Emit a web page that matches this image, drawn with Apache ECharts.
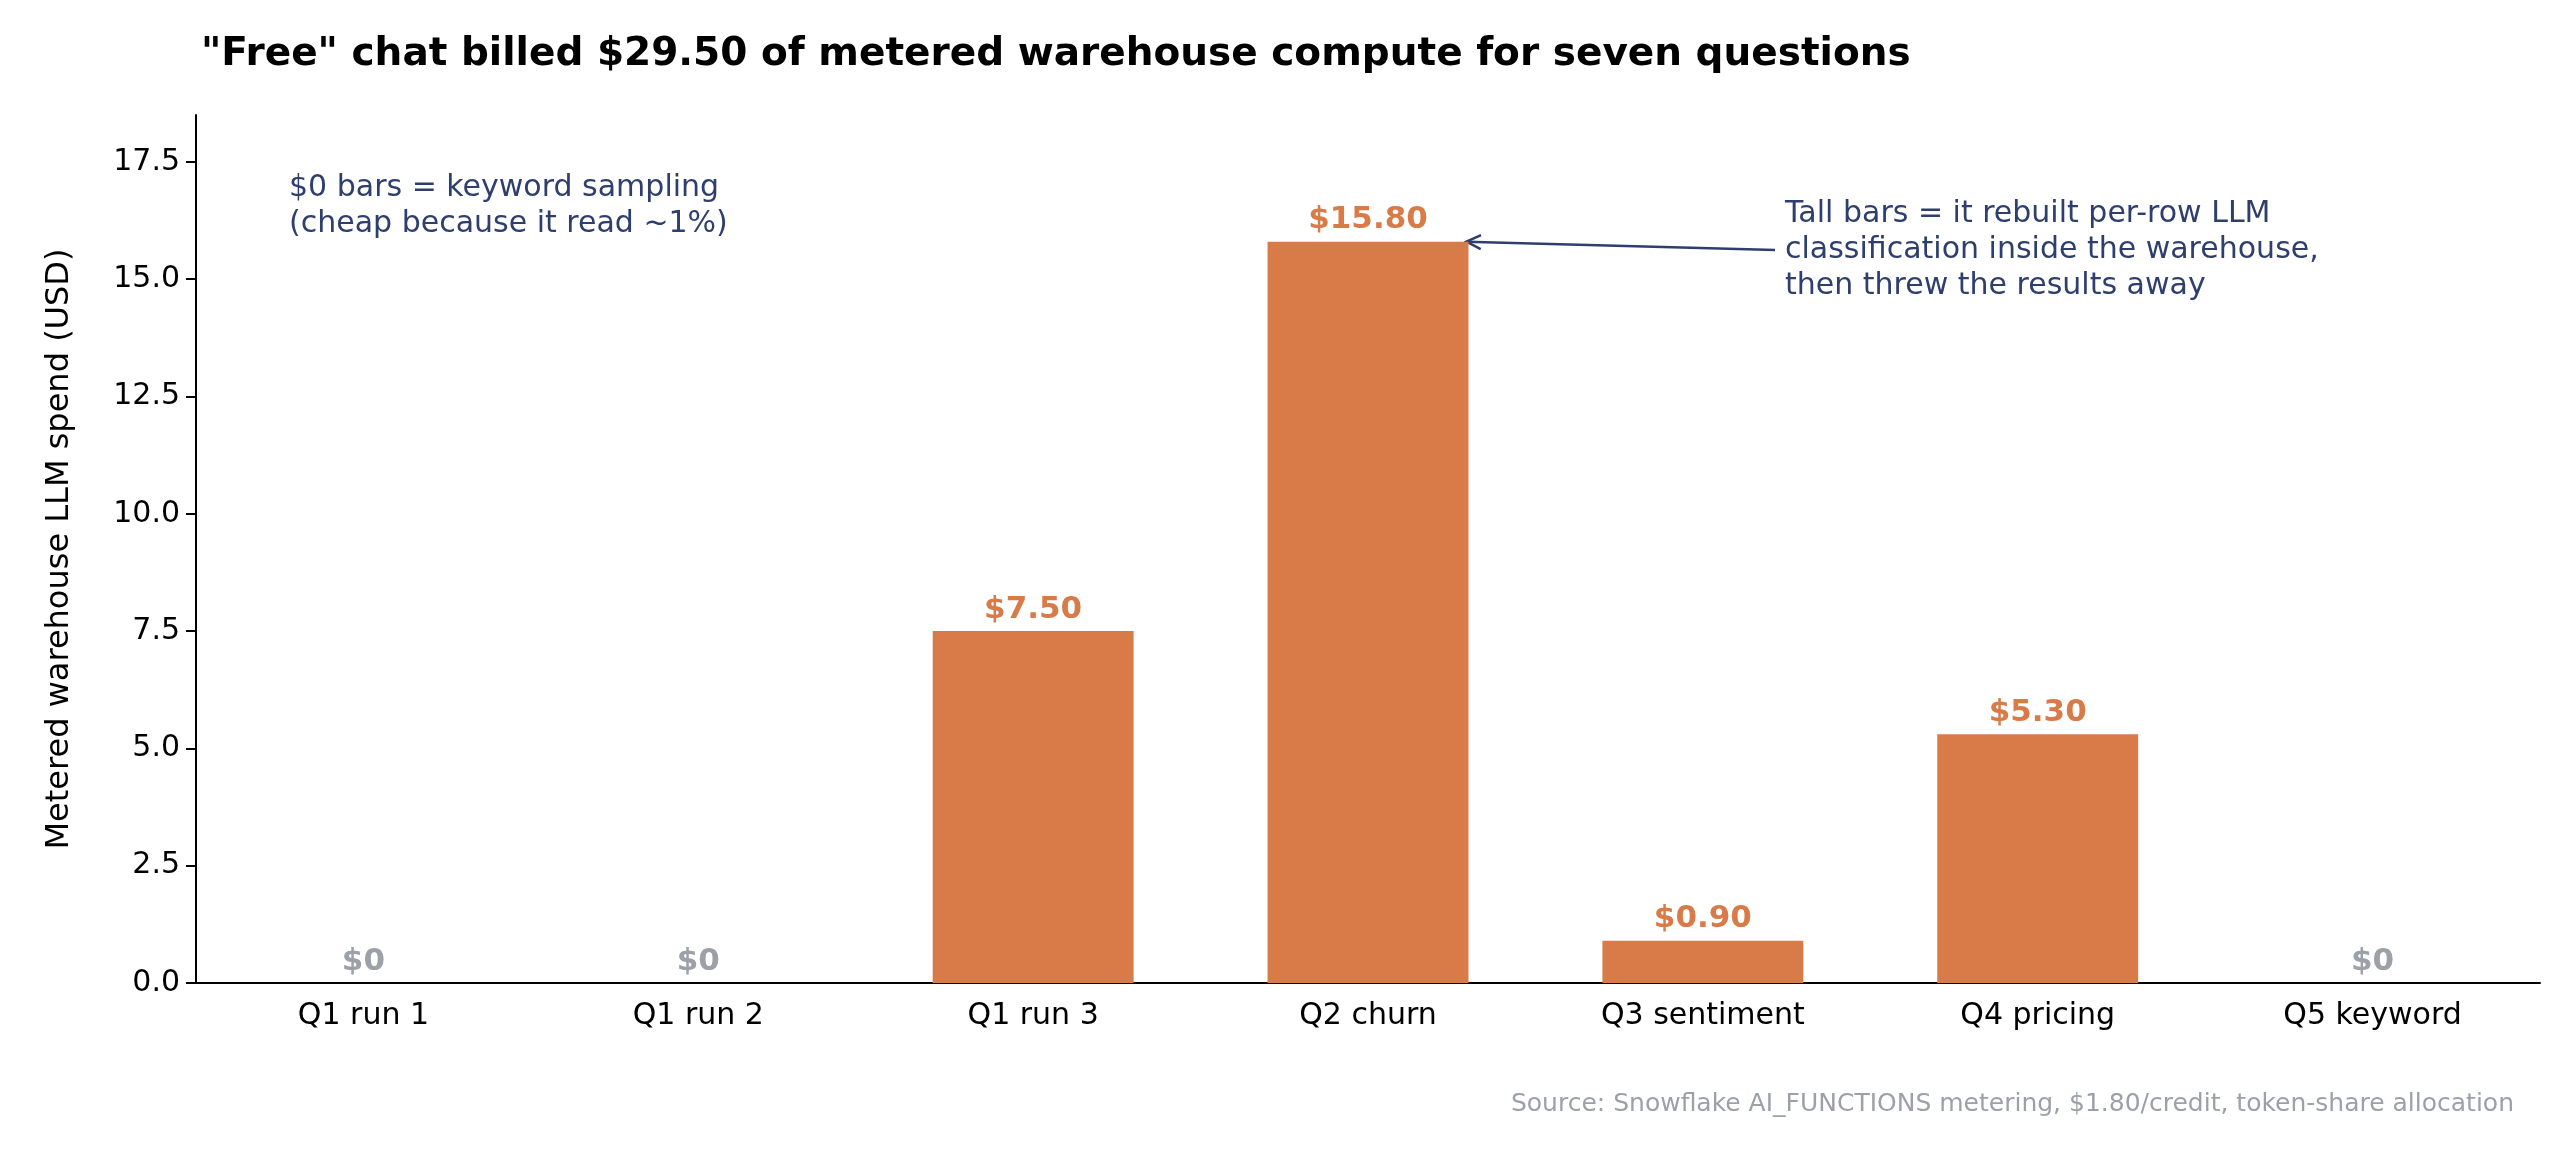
<!DOCTYPE html>
<html>
<head>
<meta charset="utf-8">
<script src="https://cdn.jsdelivr.net/npm/echarts@6/dist/echarts.min.js"></script>
<style>
  html, body { margin: 0; padding: 0; background: #fff; }
  #chart { width: 2564px; height: 1166px; }
</style>
</head>
<body>
<div id="chart"></div>
<script>
const categories = ["Q1 run 1", "Q1 run 2", "Q1 run 3", "Q2 churn", "Q3 sentiment", "Q4 pricing", "Q5 keyword"];
const spend = [0, 0, 7.5, 15.8, 0.9, 5.3, 0];
const yTicks = [0, 2.5, 5, 7.5, 10, 12.5, 15, 17.5];

const ORANGE = "#d87b48";
const GRAY = "#9ca1a8";
const NAVY = "#2e3f6e";
const FONT = "DejaVu Sans, sans-serif";

const chart = echarts.init(document.getElementById("chart"));

const option = {
  animation: false,
  textStyle: { fontFamily: FONT },
  title: {
    text: '"Free" chat billed $29.50 of metered warehouse compute for seven questions',
    left: 196, top: 30,
    textStyle: { fontSize: 39, fontWeight: "bold", color: "#000", fontFamily: FONT },
  },
  grid: { left: 196, right: 24, top: 115, bottom: 183 },
  xAxis: {
    type: "category",
    data: categories,
    axisLine: { lineStyle: { color: "#000", width: 2 } },
    axisTick: { alignWithLabel: true, length: 10, lineStyle: { color: "#000", width: 2 } },
    axisLabel: { fontSize: 30, color: "#000", margin: 18, fontFamily: FONT },
  },
  yAxis: {
    type: "value",
    min: 0, max: 18.5, interval: 2.5,
    name: "Metered warehouse LLM spend (USD)",
    nameLocation: "middle", nameGap: 120,
    nameTextStyle: { fontSize: 32, color: "#000", fontFamily: FONT },
    axisLine: { show: true, lineStyle: { color: "#000", width: 2 } },
    axisTick: { show: true, length: 10, lineStyle: { color: "#000", width: 2 } },
    axisLabel: {
      fontSize: 30, color: "#000", margin: 16, fontFamily: FONT,
      showMaxLabel: false,
      formatter: v => yTicks.includes(v) ? v.toFixed(1) : "",
    },
    splitLine: { show: false },
  },
  series: [{
    type: "bar",
    data: spend.map(v => ({
      value: v,
      label: { color: v === 0 ? GRAY : ORANGE },
    })),
    barWidth: "60%",
    itemStyle: { color: ORANGE },
    label: {
      show: true, position: "top", distance: 6,
      fontSize: 31, fontWeight: "bold", fontFamily: FONT,
      formatter: p => p.value === 0 ? "$0" : "$" + p.value.toFixed(2),
    },
  }],
  graphic: [
    {
      type: "text", left: 289, top: 170,
      style: {
        text: "$0 bars = keyword sampling\n(cheap because it read ~1%)",
        font: "30px " + FONT, fill: NAVY, lineHeight: 36,
      },
    },
    {
      type: "text", left: 1785, top: 196,
      style: {
        text: "Tall bars = it rebuilt per-row LLM\nclassification inside the warehouse,\nthen threw the results away",
        font: "30px " + FONT, fill: NAVY, lineHeight: 36,
      },
    },
    {
      type: "text", right: 50, top: 1092,
      style: {
        text: "Source: Snowflake AI_FUNCTIONS metering, $1.80/credit, token-share allocation",
        font: "25px " + FONT, fill: GRAY,
      },
    },
  ],
};

chart.setOption(option);

// arrow from annotation text to the top right corner of the Q2 churn bar
const barTop = chart.convertToPixel({ seriesIndex: 0 }, ["Q2 churn", 15.8]);
const catW = chart.convertToPixel({ xAxisIndex: 0 }, "Q3 sentiment") - barTop[0];
const tipX = barTop[0] + catW * 0.3 - 2;
const tipY = barTop[1];
const fromX = 1775, fromY = 250;
const ang = Math.atan2(fromY - tipY, fromX - tipX);
const hl = 16;
chart.setOption({
  graphic: option.graphic.concat([
    {
      type: "line",
      shape: { x1: fromX, y1: fromY, x2: tipX, y2: tipY },
      style: { stroke: NAVY, lineWidth: 2.5 },
    },
    {
      type: "polyline",
      shape: { points: [
        [tipX + hl * Math.cos(ang - 0.45), tipY + hl * Math.sin(ang - 0.45)],
        [tipX, tipY],
        [tipX + hl * Math.cos(ang + 0.45), tipY + hl * Math.sin(ang + 0.45)],
      ] },
      style: { stroke: NAVY, lineWidth: 2.5, fill: null },
    },
  ]),
});
</script>
</body>
</html>
